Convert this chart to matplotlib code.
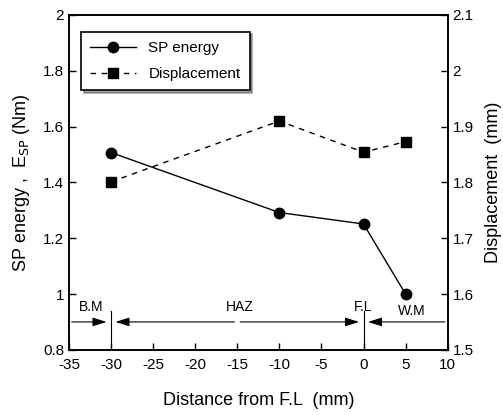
import matplotlib.pyplot as plt

plt.rcParams['font.family'] = ['Liberation Sans', 'DejaVu Sans']
plt.rcParams['axes.unicode_minus'] = False

distance = [-30, -10, 0, 5]
sp_energy = [1.507, 1.292, 1.251, 1.0]
displacement = [1.801, 1.910, 1.854, 1.873]

fig = plt.figure(figsize=(5.03, 4.15), dpi=100)
ax = fig.add_axes([0.137, 0.157, 0.753, 0.807])
ax2 = ax.twinx()

l1, = ax.plot(distance, sp_energy, '-o', color='black', lw=1, markersize=7.5,
              label='SP energy')
l2, = ax2.plot(distance, displacement, '--s', color='black', lw=1, markersize=7,
               dashes=(4, 4), label='Displacement')

ax.set_xlim(-35, 10)
ax.set_ylim(0.8, 2.0)
ax2.set_ylim(1.5, 2.1)
ax.set_xticks(range(-35, 11, 5))
ax.set_yticks([0.8, 1.0, 1.2, 1.4, 1.6, 1.8, 2.0])
ax.set_yticklabels(['0.8', '1', '1.2', '1.4', '1.6', '1.8', '2'])
ax2.set_yticks([1.5, 1.6, 1.7, 1.8, 1.9, 2.0, 2.1])
ax2.set_yticklabels(['1.5', '1.6', '1.7', '1.8', '1.9', '2', '2.1'])

for a in (ax, ax2):
    a.tick_params(direction='in', length=5, width=1, labelsize=11)
    for s in a.spines.values():
        s.set_linewidth(1.2)
ax.tick_params(axis='x', pad=6)

ax.set_xlabel('Distance from F.L  (mm)', fontsize=13, labelpad=14)
ax.set_ylabel(r'SP energy ,  E$_{\rm SP}$ (Nm)', fontsize=13, labelpad=8)
ax2.set_ylabel('Displacement  (mm)', fontsize=13, labelpad=8)

# region markers
y_arr = 0.9
for xv in (-30, 0):
    ax.plot([xv, xv], [0.8, 0.94], color='black', lw=0.8)
head = '-|>,head_length=0.7,head_width=0.22'
arrow = dict(arrowstyle=head, color='black', lw=0.8, mutation_scale=12)
ax.annotate('', xy=(-30.2, y_arr), xytext=(-35, y_arr), arrowprops=arrow)
ax.annotate('', xy=(-29.8, y_arr), xytext=(-15, y_arr), arrowprops=arrow)
ax.annotate('', xy=(-0.2, y_arr), xytext=(-15, y_arr), arrowprops=arrow)
ax.annotate('', xy=(0.2, y_arr), xytext=(10, y_arr), arrowprops=arrow)
ax.text(-32.4, 0.955, 'B.M', ha='center', va='center', fontsize=10)
ax.text(-14.7, 0.955, 'HAZ', ha='center', va='center', fontsize=10)
ax.text(0, 0.955, 'F.L', ha='center', va='center', fontsize=10)
ax.text(5.7, 0.94, 'W.M', ha='center', va='center', fontsize=10)

leg = ax.legend([l1, l2], ['SP energy', 'Displacement'], loc='upper left',
                bbox_to_anchor=(0.032, 0.95), borderaxespad=0, fontsize=11,
                handlelength=3.0, fancybox=False, shadow=True, edgecolor='black',
                framealpha=1, borderpad=0.6, labelspacing=0.8)
leg.get_frame().set_linewidth(1.2)

fig.savefig('out.png', dpi=100)
